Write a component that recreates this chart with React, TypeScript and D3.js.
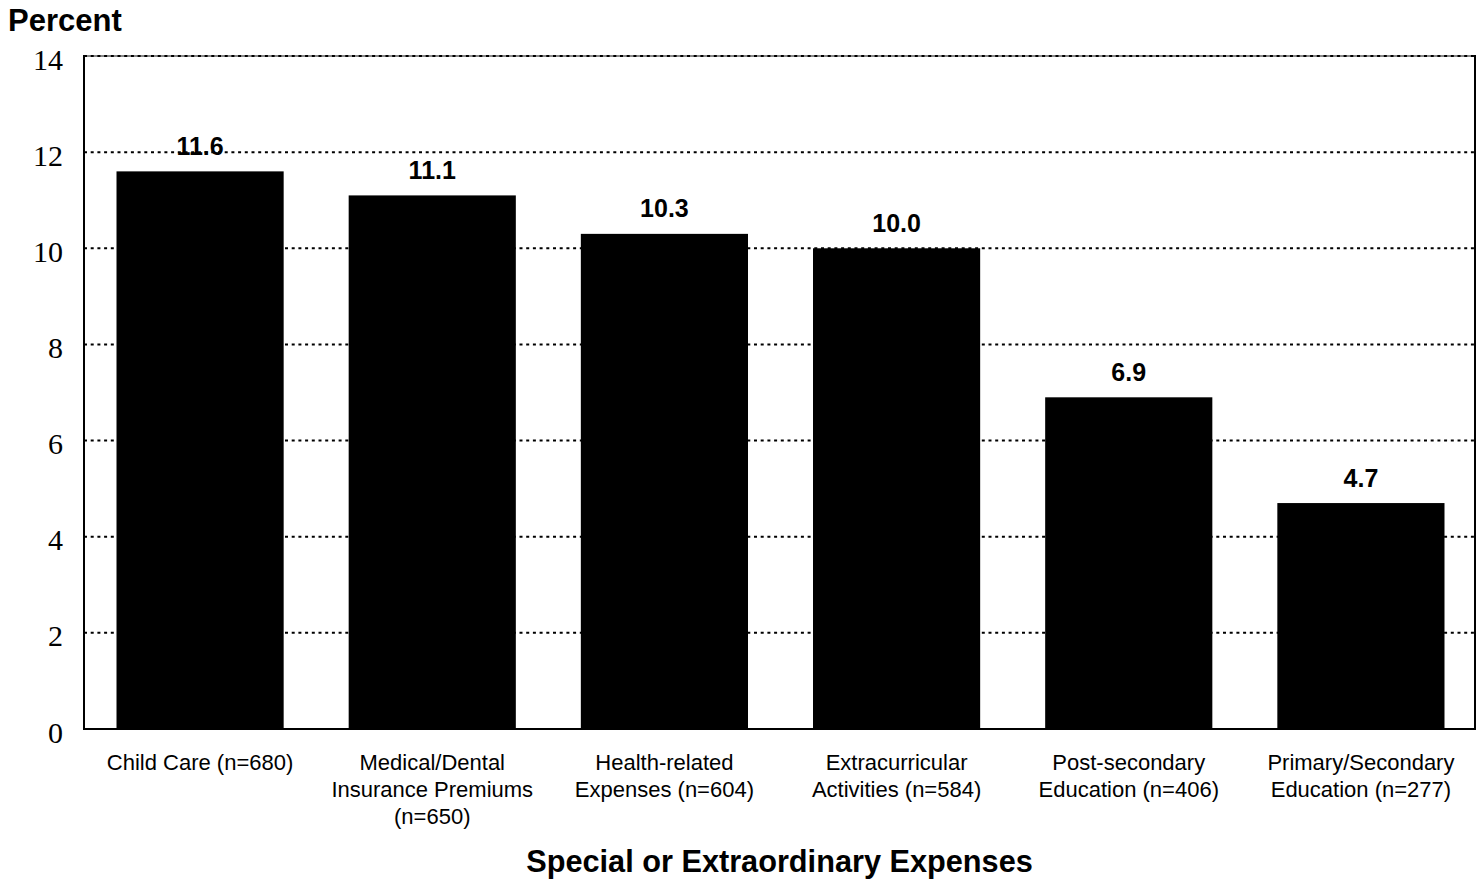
import React from "react";
import * as d3 from "d3";

// Share of cases with each special or extraordinary expense
const categories: string[][] = [
  ["Child Care (n=680)"],
  ["Medical/Dental", "Insurance Premiums", "(n=650)"],
  ["Health-related", "Expenses (n=604)"],
  ["Extracurricular", "Activities (n=584)"],
  ["Post-secondary", "Education (n=406)"],
  ["Primary/Secondary", "Education (n=277)"],
];
const values: number[] = [11.6, 11.1, 10.3, 10.0, 6.9, 4.7];
const yTicks: number[] = [0, 2, 4, 6, 8, 10, 12, 14];

const W = 1484;
const H = 883;
const left = 84;
const right = 1475;
const top = 56;
const bottom = 729;

export default function App() {
  const keys = categories.map((_, i) => String(i));
  const x = d3
    .scaleBand<string>()
    .domain(keys)
    .range([left, right + 2])
    .paddingInner(0.28)
    .paddingOuter(0.14);
  const y = d3.scaleLinear().domain([0, 14]).range([bottom, top]);
  const sans = "'Liberation Sans', Arial, Helvetica, sans-serif";
  const serif = "'Liberation Serif', 'Times New Roman', Times, serif";

  return (
    <svg
      width={W}
      height={H}
      viewBox={`0 0 ${W} ${H}`}
      style={{ position: "absolute", left: 0, top: 0, background: "#fff" }}
    >
      <rect x={0} y={0} width={W} height={H} fill="#fff" />

      {/* top edge of the frame sits under the 14 gridline */}
      <line x1={left} x2={right} y1={top} y2={top} stroke="#888" strokeWidth={2} />

      {/* dotted gridlines */}
      {yTicks
        .filter((t) => t > 0)
        .map((t) => (
          <line
            key={`g${t}`}
            x1={left}
            x2={right}
            y1={y(t)}
            y2={y(t)}
            stroke="#000"
            strokeWidth={2}
            strokeDasharray="3 3.7"
          />
        ))}

      {/* bars */}
      {values.map((v, i) => (
        <rect
          key={`b${i}`}
          x={x(String(i))}
          y={y(v)}
          width={x.bandwidth()}
          height={y(0) - y(v)}
          fill="#000"
        />
      ))}

      {/* value labels */}
      {values.map((v, i) => (
        <text
          key={`v${i}`}
          x={(x(String(i)) as number) + x.bandwidth() / 2}
          y={y(v) - 16.5}
          textAnchor="middle"
          fontFamily={sans}
          fontWeight="bold"
          fontSize={25}
          fill="#000"
        >
          {v.toFixed(1)}
        </text>
      ))}

      {/* frame: left, bottom, right */}
      <line x1={left} x2={left} y1={top - 1} y2={bottom + 1} stroke="#000" strokeWidth={2} />
      <line x1={left - 1} x2={right + 1} y1={bottom} y2={bottom} stroke="#000" strokeWidth={2} />
      <line x1={right} x2={right} y1={top - 1} y2={bottom + 1} stroke="#000" strokeWidth={2} />

      {/* y tick labels */}
      {yTicks.map((t) => (
        <text
          key={`t${t}`}
          x={63}
          y={y(t)}
          dy="0.45em"
          textAnchor="end"
          fontFamily={serif}
          fontSize={30}
          fill="#000"
        >
          {t}
        </text>
      ))}

      {/* category labels */}
      {categories.map((lines, i) => (
        <text
          key={`c${i}`}
          textAnchor="middle"
          fontFamily={sans}
          fontSize={22}
          fill="#000"
        >
          {lines.map((ln, j) => (
            <tspan
              key={j}
              x={(x(String(i)) as number) + x.bandwidth() / 2}
              y={770 + j * 27}
            >
              {ln}
            </tspan>
          ))}
        </text>
      ))}

      {/* axis titles */}
      <text x={8} y={31} fontFamily={sans} fontWeight="bold" fontSize={31} fill="#000">
        Percent
      </text>
      <text
        x={(left + right) / 2}
        y={872}
        textAnchor="middle"
        fontFamily={sans}
        fontWeight="bold"
        fontSize={30.7}
        fill="#000"
      >
        Special or Extraordinary Expenses
      </text>
    </svg>
  );
}
